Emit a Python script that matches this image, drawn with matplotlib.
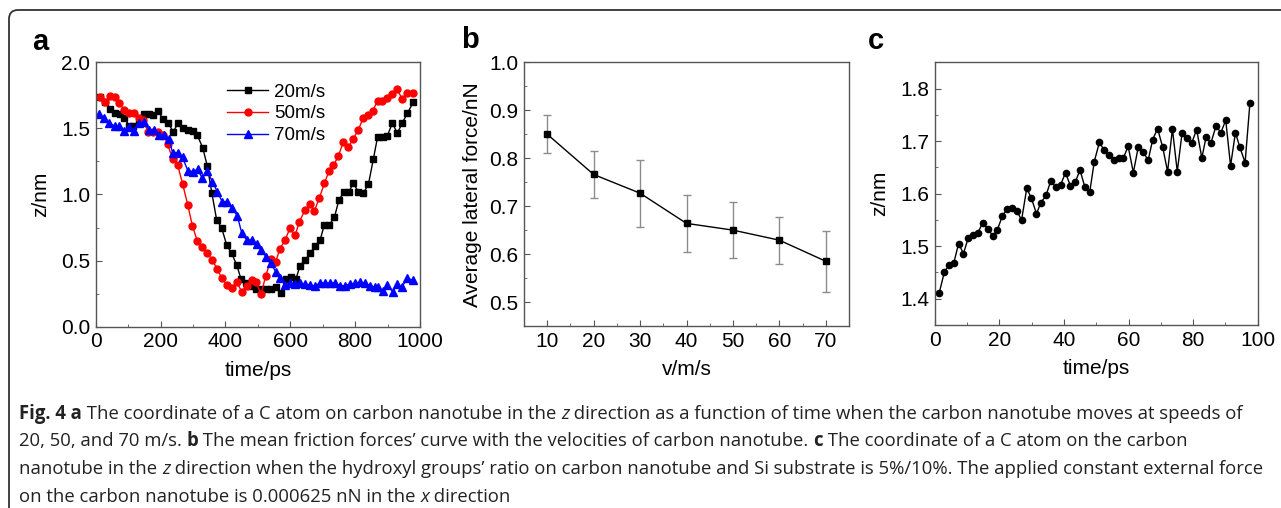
import matplotlib
matplotlib.use("Agg")
import matplotlib.pyplot as plt
from matplotlib.patches import FancyBboxPatch
from matplotlib.transforms import IdentityTransform
from matplotlib.ticker import MultipleLocator

plt.rcParams['font.family'] = ['Liberation Sans', 'DejaVu Sans']

# ---- panel a: z coordinate vs time at three speeds ----
t20 = [13, 29, 44, 60, 75, 88, 104, 114, 132, 149, 165, 178, 193, 207, 224, 239,
       255, 270, 286, 299, 313, 330, 344, 358, 373, 388, 404, 419, 435, 448, 463,
       478, 494, 510, 524, 540, 555, 570, 586, 601, 617, 630, 645, 661, 676, 692,
       705, 720, 736, 750, 766, 781, 794, 810, 825, 841, 856, 869, 887, 899, 915,
       930, 945, 961, 979]
z20 = [1.74, 1.70, 1.645, 1.614, 1.609, 1.576, 1.518, 1.518, 1.54, 1.609, 1.609,
       1.60, 1.634, 1.569, 1.54, 1.475, 1.543, 1.50, 1.488, 1.483, 1.45, 1.354,
       1.216, 1.014, 0.807, 0.75, 0.618, 0.555, 0.467, 0.36, 0.328, 0.31, 0.285,
       0.282, 0.285, 0.288, 0.303, 0.257, 0.36, 0.373, 0.358, 0.46, 0.504, 0.555,
       0.61, 0.656, 0.77, 0.77, 0.827, 0.958, 1.021, 1.021, 1.085, 1.021, 1.01,
       1.077, 1.266, 1.433, 1.433, 1.443, 1.54, 1.463, 1.54, 1.614, 1.697]

t50 = [13, 29, 44, 59, 73, 88, 104, 118, 134, 147, 162, 178, 193, 209, 222, 237,
       253, 268, 284, 298, 313, 329, 344, 359, 374, 388, 404, 419, 435, 450, 466,
       481, 494, 510, 524, 540, 555, 568, 584, 599, 615, 628, 645, 661, 674, 690,
       705, 720, 733, 748, 764, 779, 794, 810, 825, 839, 854, 869, 884, 897, 913,
       928, 945, 961, 979]
z50 = [1.74, 1.70, 1.745, 1.735, 1.69, 1.64, 1.62, 1.62, 1.58, 1.56, 1.47, 1.47,
       1.47, 1.45, 1.38, 1.27, 1.22, 1.08, 0.92, 0.765, 0.65, 0.60, 0.56, 0.505,
       0.44, 0.37, 0.315, 0.29, 0.34, 0.265, 0.31, 0.35, 0.335, 0.25, 0.38, 0.51,
       0.49, 0.59, 0.655, 0.745, 0.69, 0.795, 0.88, 0.93, 0.875, 0.975, 1.085,
       1.18, 1.22, 1.29, 1.40, 1.36, 1.42, 1.49, 1.58, 1.60, 1.63, 1.71, 1.71,
       1.73, 1.76, 1.80, 1.725, 1.77, 1.77]

t70 = [10, 27, 42, 58, 73, 88, 104, 119, 135, 149, 165, 180, 195, 211, 226, 237,
       253, 268, 284, 299, 314, 329, 344, 360, 375, 390, 406, 421, 437, 450, 466,
       481, 497, 510, 525, 540, 555, 568, 584, 599, 614, 630, 645, 661, 676, 692,
       707, 722, 738, 753, 768, 784, 799, 815, 830, 845, 861, 870, 885, 899, 916,
       930, 944, 961, 977]
z70 = [1.607, 1.576, 1.54, 1.52, 1.52, 1.483, 1.513, 1.48, 1.54, 1.55, 1.488,
       1.488, 1.45, 1.45, 1.417, 1.317, 1.317, 1.28, 1.18, 1.173, 1.19, 1.122,
       1.18, 1.097, 1.021, 0.946, 0.946, 0.895, 0.837, 0.711, 0.656, 0.656, 0.623,
       0.58, 0.53, 0.479, 0.416, 0.366, 0.315, 0.328, 0.325, 0.328, 0.322, 0.315,
       0.305, 0.332, 0.328, 0.328, 0.332, 0.31, 0.31, 0.322, 0.328, 0.338, 0.328,
       0.31, 0.30, 0.303, 0.27, 0.316, 0.265, 0.32, 0.30, 0.366, 0.353]

# ---- panel b: mean lateral force vs velocity ----
vel = [10, 20, 30, 40, 50, 60, 70]
force = [0.850, 0.766, 0.727, 0.664, 0.650, 0.629, 0.585]
force_err = [0.040, 0.048, 0.070, 0.060, 0.059, 0.049, 0.064]

# ---- panel c: z coordinate vs time, OH ratio 5%/10% ----
tc = [1.4, 3.0, 4.4, 5.9, 7.4, 8.9, 10.4, 11.9, 13.4, 14.9, 16.4, 18.0, 19.4,
      20.9, 22.4, 23.9, 25.4, 26.9, 28.5, 29.9, 31.5, 32.9, 34.5, 35.9, 37.5,
      39.0, 40.5, 42.0, 43.5, 45.0, 46.5, 48.0, 49.4, 51.0, 52.4, 54.0, 55.5,
      57.1, 58.4, 59.9, 61.5, 63.0, 64.4, 66.1, 67.5, 69.0, 70.6, 72.1, 73.6,
      75.1, 76.6, 78.0, 79.6, 81.1, 82.7, 84.0, 85.5, 87.1, 88.6, 90.1, 91.6,
      93.1, 94.5, 96.1, 97.6]
zc = [1.411, 1.451, 1.464, 1.468, 1.505, 1.486, 1.516, 1.522, 1.526, 1.545,
      1.533, 1.520, 1.531, 1.557, 1.571, 1.572, 1.567, 1.550, 1.610, 1.592,
      1.562, 1.583, 1.597, 1.624, 1.612, 1.617, 1.640, 1.615, 1.622, 1.645,
      1.612, 1.603, 1.661, 1.698, 1.683, 1.674, 1.664, 1.668, 1.668, 1.690,
      1.640, 1.688, 1.680, 1.664, 1.703, 1.724, 1.688, 1.642, 1.723, 1.642,
      1.716, 1.705, 1.697, 1.722, 1.668, 1.707, 1.696, 1.729, 1.716, 1.740,
      1.653, 1.716, 1.688, 1.659, 1.773]

W, H = 1281, 508
AX_COL = '#555555'
TICK_FS = 15
LABEL_FS = 15


def style_axes(ax, xmaj, xmin, ymaj, ymin):
    for s in ax.spines.values():
        s.set_color(AX_COL)
        s.set_linewidth(1.0)
    ax.xaxis.set_major_locator(MultipleLocator(xmaj))
    ax.xaxis.set_minor_locator(MultipleLocator(xmin))
    ax.yaxis.set_major_locator(MultipleLocator(ymaj))
    ax.yaxis.set_minor_locator(MultipleLocator(ymin))
    ax.tick_params(which='both', direction='in', top=False, right=False,
                   color=AX_COL, labelsize=TICK_FS, pad=4)
    ax.tick_params(which='major', length=4)
    ax.tick_params(which='minor', length=2.5)


def px_axes(left, top, right, bottom):
    return fig.add_axes([left / W, 1 - bottom / H, (right - left) / W, (bottom - top) / H])


fig = plt.figure(figsize=(W / 100, H / 100), dpi=100)

# panel a
ax1 = px_axes(95.7, 62.3, 420, 326.7)
ax1.plot(t20, z20, '-s', color='black', ms=4.5, lw=1, label='20m/s')
ax1.plot(t50, z50, '-o', color='red', ms=5, lw=1, label='50m/s')
ax1.plot(t70, z70, '-^', color='blue', ms=5.5, lw=1, label='70m/s')
ax1.set_xlim(0, 1000)
ax1.set_ylim(0, 2.0)
style_axes(ax1, 200, 100, 0.5, 0.25)
ax1.set_xlabel('time/ps', fontsize=LABEL_FS, labelpad=7)
ax1.set_ylabel('z/nm', fontsize=LABEL_FS, labelpad=8)
ax1.legend(loc='upper left', bbox_to_anchor=(0.405, 0.92), frameon=False,
           fontsize=13.5, handlelength=2.2, handletextpad=0.3, labelspacing=0.25,
           borderaxespad=0, borderpad=0)

# panel b
ax2 = px_axes(524, 62.3, 849, 326)
ax2.errorbar(vel, force, yerr=force_err, fmt='-s', color='black', ms=5, lw=1,
             ecolor='#8c8c8c', elinewidth=1, capsize=3, capthick=1)
ax2.set_xlim(5, 75)
ax2.set_ylim(0.45, 1.0)
style_axes(ax2, 10, 5, 0.1, 0.05)
ax2.set_xlabel('v/m/s', fontsize=LABEL_FS, labelpad=7)
ax2.set_ylabel('Average lateral force/nN', fontsize=LABEL_FS, labelpad=5)

# panel c
ax3 = px_axes(934.7, 62.3, 1257.7, 325)
ax3.plot(tc, zc, '-o', color='black', ms=4.5, lw=1)
ax3.set_xlim(0, 100)
ax3.set_ylim(1.35, 1.85)
style_axes(ax3, 20, 10, 0.1, 0.05)
ax3.set_xlabel('time/ps', fontsize=LABEL_FS, labelpad=7)
ax3.set_ylabel('z/nm', fontsize=LABEL_FS, labelpad=8)

# panel letters
for lx, ly, s in [(32, 42, 'a'), (461, 40, 'b'), (868, 41, 'c')]:
    fig.text(lx / W, 1 - ly / H, s, fontsize=21, weight='bold', va='center', ha='left')

# rounded outer frame (right/bottom edges fall outside the image)
frame = FancyBboxPatch((9, -30), 1320, 528, boxstyle='round,pad=0,rounding_size=9',
                       transform=IdentityTransform(), fill=False, ec='#333333', lw=1.3)
fig.add_artist(frame)

# caption, drawn run by run so bold/italic parts sit inline
reg = dict(family=['Open Sans', 'DejaVu Sans'])
bold = dict(family=['Open Sans', 'DejaVu Sans'], weight='bold')
ital = dict(family=['Open Sans', 'DejaVu Sans'], style='italic')
caption = [
    [('Fig. 4 a', bold), (' The coordinate of a C atom on carbon nanotube in the ', reg),
     ('z', ital), (' direction as a function of time when the carbon nanotube moves at speeds of', reg)],
    [('20, 50, and 70 m/s. ', reg), ('b', bold),
     (' The mean friction forces\u2019 curve with the velocities of carbon nanotube. ', reg),
     ('c', bold), (' The coordinate of a C atom on the carbon', reg)],
    [('nanotube in the ', reg), ('z', ital),
     (' direction when the hydroxyl groups\u2019 ratio on carbon nanotube and Si substrate is '
      '5%/10%. The applied constant external force', reg)],
    [('on the carbon nanotube is 0.000625 nN in the ', reg), ('x', ital), (' direction', reg)],
]
cap_size = 13.35
renderer = fig.canvas.get_renderer()
for i, line in enumerate(caption):
    x = 19
    y = 1 - (419 + 27.5 * i) / H
    for txt, kw in line:
        fig.text(x / W, y, txt, fontsize=cap_size, va='baseline', ha='left', color='#222222', **kw)
        t1 = fig.text(0, 0, 'a' + txt + 'a', fontsize=cap_size, **kw)
        t2 = fig.text(0, 0, 'aa', fontsize=cap_size, **kw)
        x += t1.get_window_extent(renderer).width - t2.get_window_extent(renderer).width
        t1.remove()
        t2.remove()

fig.savefig('out.png', dpi=100)
